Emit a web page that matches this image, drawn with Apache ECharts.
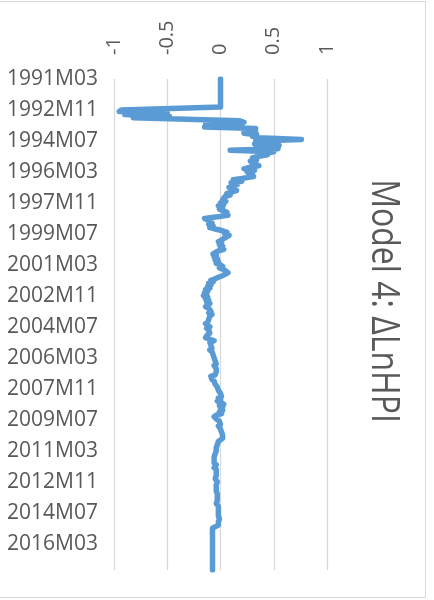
<!DOCTYPE html>
<html><head><meta charset="utf-8">
<script src="https://cdn.jsdelivr.net/npm/echarts@6/dist/echarts.min.js"></script>
<style>html,body{margin:0;padding:0;background:#fff}#c{width:434px;height:600px}</style>
</head><body><div id="c"></div>
<script>
const chartTitle = 'Model 4: \u0394LnHPI';
const firstYear = 1991, firstMonth = 3, monthCount = 318;
const categories = [];
for (let k = 0; k < monthCount; k++) {
  const m = firstMonth - 1 + k;
  const y = firstYear + Math.floor(m / 12);
  const mm = (m % 12) + 1;
  categories.push(y + 'M' + (mm < 10 ? '0' + mm : '' + mm));
}
const valueTicks = [-1, -0.5, 0, 0.5, 1];
const lnHpi = [
  0,0,0,0,0,0,0,0,0,0, 0,0,0,0,0,0,0,0,0,0,
  -0.93,-0.95,-0.5,-0.9,-0.48,-0.82,-0.81,0.18,0.22,-0.14,
  0.2,-0.15,0.33,0.22,0.33,0.22,0.34,0.3,0.36,0.76,
  0.33,0.5,0.32,0.55,0.47,0.54,0.09,0.5,0.42,0.44,
  0.35,0.3,0.34,0.28,0.33,0.3,0.36,0.27,0.22,0.32,
  0.25,0.3,0.27,0.31,0.22,0.12,0.2,0.1,0.16,0.13,
  0.08,0.12,0.15,0.1,0.06,0.09,0.04,0.05,0.02,0.05,
  0.0,0.03,-0.02,0.02,-0.01,0.0,0.06,0.04,0.07,-0.03,
  -0.15,-0.12,-0.12,-0.08,-0.11,-0.07,-0.1,-0.04,0.02,0.06,
  0.04,0.08,0.09,0.03,0.01,-0.02,0.01,-0.01,0.02,0.0,
  0.03,-0.02,-0.05,-0.07,-0.04,-0.06,-0.03,-0.05,-0.02,-0.04,
  0.0,0.02,-0.01,0.03,0.05,0.07,0.06,0.02,-0.02,-0.05,
  -0.09,-0.07,-0.11,-0.09,-0.12,-0.1,-0.14,-0.12,-0.15,-0.13,
  -0.16,-0.12,-0.14,-0.11,-0.13,-0.1,-0.12,-0.14,-0.11,-0.12,
  -0.09,-0.11,-0.08,-0.1,-0.09,-0.11,-0.1,-0.12,-0.14,-0.12,
  -0.1,-0.13,-0.11,-0.12,-0.1,-0.12,-0.11,-0.14,-0.15,-0.06,
  -0.1,-0.11,-0.09,-0.1,-0.08,-0.1,-0.08,-0.09,-0.07,-0.08,
  -0.06,-0.07,-0.05,-0.06,-0.04,-0.06,-0.05,-0.04,-0.05,-0.04,
  -0.03,-0.05,-0.09,-0.1,-0.08,-0.06,-0.07,-0.05,-0.04,-0.03,
  -0.03,-0.02,-0.01,0.0,-0.01,0.01,-0.02,0.0,-0.03,0.01,
  0.03,-0.01,0.02,0.0,0.02,-0.01,0.01,-0.04,-0.06,-0.05,
  -0.03,-0.01,-0.02,0.0,-0.02,-0.01,0.0,-0.01,0.01,0.0,
  0.02,0.03,0.02,0.0,-0.02,-0.01,-0.03,-0.02,-0.04,-0.03,
  -0.04,-0.04,-0.05,-0.05,-0.06,-0.05,-0.06,-0.05,-0.06,-0.04,
  -0.05,-0.06,-0.04,-0.03,-0.04,-0.03,-0.04,-0.03,-0.05,-0.04,
  -0.03,-0.02,-0.04,-0.03,-0.04,-0.03,-0.04,-0.03,-0.03,-0.04,
  -0.03,-0.04,-0.03,-0.03,-0.04,-0.03,-0.02,-0.03,-0.02,-0.02,
  -0.02,-0.01,-0.02,-0.02,-0.01,-0.02,-0.02,-0.01,-0.02,-0.03,
  -0.075,-0.075,-0.075,-0.075,-0.075,-0.075,-0.075,-0.075,-0.075,-0.075,
  -0.075,-0.075,-0.075,-0.075,-0.075,-0.075,-0.075,-0.075,-0.075,-0.075,
  -0.075,-0.075,-0.075,-0.075,-0.075,-0.075,-0.075,-0.075
];

const chart = echarts.init(document.getElementById('c'), null, {renderer: 'canvas'});
const FONT = '"Open Sans", sans-serif';
chart.setOption({
  animation: false,
  backgroundColor: '#ffffff',
  grid: {left: 114, right: 107, top: 79, bottom: 30},
  xAxis: {
    type: 'value', position: 'top',
    min: valueTicks[0], max: valueTicks[valueTicks.length - 1], interval: 0.5,
    axisLine: {show: false}, axisTick: {show: false},
    axisLabel: {rotate: -90, margin: 24, fontSize: 20, color: '#595959', fontFamily: FONT},
    splitLine: {show: true, lineStyle: {color: '#d9d9d9', width: 1.3}}
  },
  yAxis: {
    type: 'category', data: categories, inverse: true, boundaryGap: false,
    axisLine: {show: false}, axisTick: {show: false},
    axisLabel: {interval: 19, margin: 16, fontSize: 21, color: '#595959', fontFamily: FONT},
    splitLine: {show: false}
  },
  series: [{
    type: 'line', data: lnHpi, showSymbol: false, symbol: 'none',
    lineStyle: {color: '#5b9bd5', width: 5.5, cap: 'round', join: 'round'}
  }],
  graphic: [
    {type: 'rect', silent: true, z: -1,
     shape: {x: -2, y: 1.5, width: 427.5, height: 596},
     style: {fill: null, stroke: '#d9d9d9', lineWidth: 1}},
    {type: 'text', silent: true, x: 383, y: 301, rotation: -Math.PI / 2, scaleY: 1.22,
     style: {text: chartTitle, fontSize: 32, fontFamily: FONT, fill: '#595959',
             textAlign: 'center', textVerticalAlign: 'middle'}}
  ]
});
</script></body></html>
